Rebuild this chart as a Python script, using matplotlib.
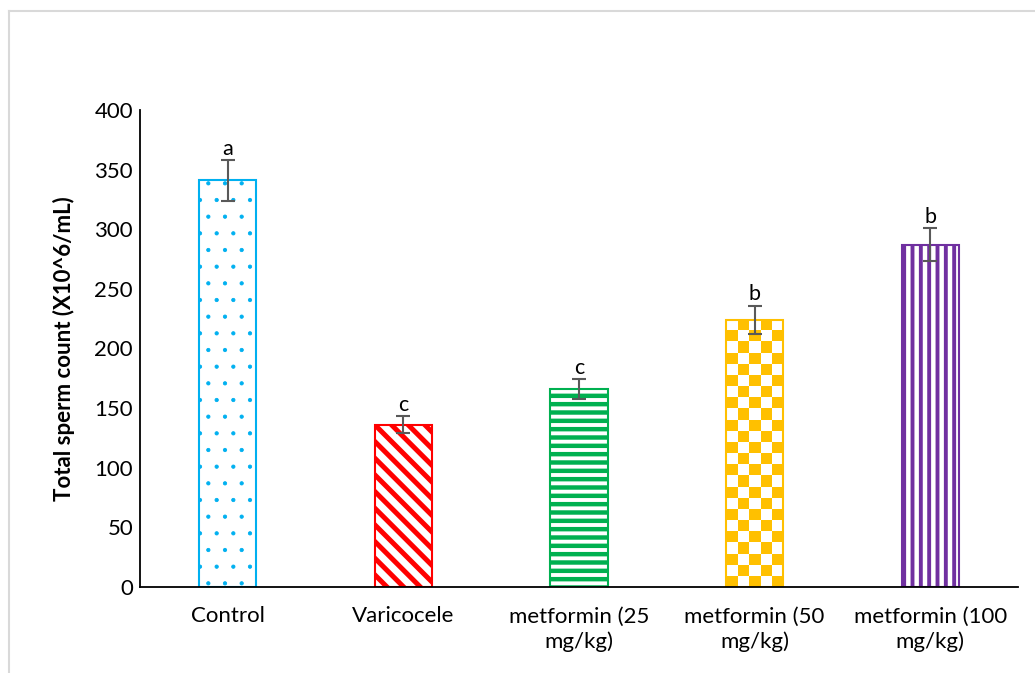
import numpy as np
import matplotlib
matplotlib.use("Agg")
import matplotlib.pyplot as plt
from matplotlib.lines import Line2D

# Group names, means, standard errors and significance letters
groups = ["Control", "Varicocele", "metformin (25\nmg/kg)",
          "metformin (50\nmg/kg)", "metformin (100\nmg/kg)"]
means = [341, 136, 166, 224, 287]
errors = [17, 7, 8, 12, 14]
letters = ["a", "c", "c", "b", "b"]

colors = ["#00b0f0", "#ff0000", "#00b050", "#ffc000", "#7030a0"]
hatches = [".", "\\\\", "--", None, "||"]
hatch_widths = [0.6, 3.6, 3.2, 1.0, 2.8]

plt.rcParams["font.family"] = ["Lato", "DejaVu Sans"]

fig = plt.figure(figsize=(10.35, 6.73), dpi=100)
ax = fig.add_axes([0.1353, 0.1278, 0.8483, 0.7088])

x = np.arange(len(groups))
bars = ax.bar(x, means, width=0.325, color="white", linewidth=1.5)

for i, bar in enumerate(bars):
    bar.set_edgecolor(colors[i])
    if hatches[i]:
        bar.set_hatch(hatches[i])
        if hasattr(bar, "set_hatch_linewidth"):
            bar.set_hatch_linewidth(hatch_widths[i])

# Checkerboard fill for the 50 mg/kg bar, clipped to the bar outline
chk = bars[3]
chk.set_facecolor("none")
x0, w, h = chk.get_x(), chk.get_width(), chk.get_height()
n_rows = int(round(h / 9.3))
board = (np.add.outer(np.arange(n_rows), np.arange(5)) % 2 == 0).astype(float)
cmap = matplotlib.colors.ListedColormap(["white", colors[3]])
im = ax.imshow(board, extent=(x0, x0 + w, h, 0), cmap=cmap, vmin=0, vmax=1,
               aspect="auto", interpolation="nearest", zorder=0.9)
im.set_clip_path(chk)

ax.errorbar(x, means, yerr=errors, fmt="none", ecolor="#595959",
            elinewidth=1.5, capsize=5, capthick=1.5, zorder=3)

for xi, m, e, lab in zip(x, means, errors, letters):
    ax.annotate(lab, (xi, m + e), xytext=(0, 1), textcoords="offset points",
                ha="center", va="bottom", fontsize=15.5, color="#000000")

ax.set_xlim(-0.5, len(groups) - 0.5)
ax.set_ylim(0, 400)
ax.set_yticks(range(0, 401, 50))
ax.set_xticks(x)
ax.set_xticklabels(groups, linespacing=1.3)
ax.tick_params(axis="both", length=0, labelsize=16, colors="#000000")
ax.tick_params(axis="x", pad=14)
ax.tick_params(axis="y", pad=5)
ax.set_ylabel("Total sperm count (X10^6/mL)", fontsize=16,
              fontweight="bold", labelpad=14)

for side in ("top", "right"):
    ax.spines[side].set_visible(False)
for side in ("left", "bottom"):
    ax.spines[side].set_linewidth(1.3)
    ax.spines[side].set_color("#000000")

# Light grey chart-area frame
fx0 = 8.5 / 1035
fy0 = 1 - 11 / 673
fig.add_artist(Line2D([fx0, fx0], [0, fy0], transform=fig.transFigure,
                      color="#d9d9d9", linewidth=1.5))
fig.add_artist(Line2D([fx0, 1], [fy0, fy0], transform=fig.transFigure,
                      color="#d9d9d9", linewidth=1.5))

fig.savefig("out.png", dpi=100)
